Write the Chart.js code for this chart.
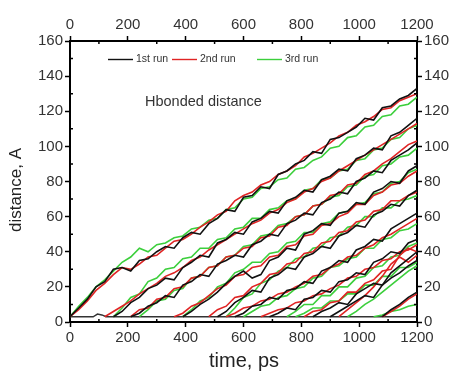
<!DOCTYPE html>
<html>
<head>
<meta charset="utf-8">
<script src="https://cdn.jsdelivr.net/npm/chart.js@4/dist/chart.umd.min.js"></script>
<style>
body { margin: 0; background: #fff; }
</style>
</head>
<body>
<canvas id="grafica" width="453" height="375"></canvas>
<script>
// time between samples, ps
const step = 30;

// all H-bonds sit at ~3 A until they break
const baseTime = [0, 80, 95, 110, 125, 1200];
const baseDist = [3, 3, 4.5, 4, 3, 3];

// 1st run (black): break time of each bond and distance every 30 ps from there
const run1Start = [0, 150, 210, 390, 510, 570, 690, 840, 900, 1080];
const run1 = [
	[3, 8, 13, 20, 23, 30, 31, 29, 35, 36, 40, 43, 42, 48, 51, 50, 56, 59, 64, 63, 71, 72, 77, 76, 84, 86, 90, 92, 97, 96, 104, 105, 108, 111, 116, 115, 122, 123, 127, 129, 133],
	[3, 6, 11, 14, 19, 21, 25, 24, 31, 34, 38, 37, 45, 47, 51, 50, 57, 59, 63, 62, 69, 71, 75, 74, 81, 83, 87, 86, 93, 95, 99, 98, 106, 108, 112, 116],
	[3, 5, 9, 11, 15, 14, 21, 23, 27, 26, 33, 35, 38, 37, 44, 46, 50, 49, 56, 58, 62, 61, 68, 70, 74, 73, 80, 82, 86, 85, 92, 95, 98, 102],
	[3, 6, 10, 13, 17, 22, 26, 29, 25, 27, 35, 37, 42, 41, 50, 52, 56, 55, 62, 63, 68, 67, 74, 76, 80, 79, 86, 89],
	[3, 6, 11, 14, 18, 17, 25, 27, 31, 30, 37, 39, 43, 42, 49, 51, 55, 54, 61, 63, 67, 66, 72, 75],
	[3, 5, 9, 10, 14, 13, 18, 19, 23, 22, 29, 31, 35, 34, 41, 43, 47, 46, 53, 56, 59, 62],
	[3, 5, 8, 7, 13, 14, 18, 17, 23, 24, 28, 27, 34, 36, 40, 39, 45, 47],
	[3, 6, 8, 11, 10, 16, 19, 22, 21, 28, 32, 36, 40],
	[3, 6, 9, 12, 15, 14, 21, 25, 28, 32, 35],
	[3, 7, 10, 14, 17]
];

// 2nd run (red)
const run2Start = [0, 120, 210, 360, 480, 540, 660, 810, 930, 1080];
const run2 = [
	[3, 7, 12, 18, 22, 27, 31, 30, 33, 37, 38, 42, 46, 47, 50, 54, 57, 61, 63, 69, 72, 74, 78, 80, 84, 86, 89, 94, 96, 99, 102, 106, 108, 112, 114, 117, 121, 122, 126, 128, 130],
	[3, 6, 9, 12, 16, 19, 22, 26, 28, 31, 35, 37, 41, 44, 47, 50, 53, 56, 58, 62, 64, 68, 70, 74, 76, 80, 82, 86, 89, 92, 95, 98, 101, 104, 107, 110, 113],
	[3, 7, 8, 13, 14, 19, 20, 25, 26, 31, 32, 37, 38, 42, 43, 48, 49, 54, 55, 60, 61, 66, 67, 72, 73, 78, 79, 84, 86, 90, 93, 97, 101, 103],
	[3, 5, 9, 11, 15, 19, 21, 26, 27, 31, 32, 37, 38, 43, 44, 49, 50, 55, 56, 60, 62, 67, 67, 72, 74, 78, 79, 83, 86],
	[3, 7, 9, 14, 15, 20, 22, 27, 28, 33, 34, 39, 40, 45, 46, 51, 52, 57, 58, 63, 64, 69, 69, 72, 74],
	[3, 5, 8, 9, 12, 13, 16, 17, 20, 22, 26, 27, 31, 33, 37, 38, 42, 44, 48, 50, 53, 56, 59],
	[3, 5, 7, 8, 11, 12, 15, 16, 19, 21, 25, 26, 30, 31, 35, 36, 40, 41, 44],
	[3, 6, 7, 11, 12, 17, 17, 22, 24, 29, 30, 38, 42, 40],
	[3, 7, 11, 15, 20, 26, 33, 37, 34, 38],
	[3, 6, 9, 13, 16]
];

// 3rd run (green)
const run3Start = [0, 150, 240, 390, 540, 600, 750, 780, 960, 1050];
const run3 = [
	[3, 9, 14, 20, 24, 29, 34, 37, 42, 40, 44, 45, 48, 49, 53, 54, 58, 59, 64, 65, 70, 71, 76, 77, 81, 82, 87, 88, 92, 94, 99, 100, 105, 106, 111, 112, 117, 118, 123, 124, 128],
	[3, 8, 14, 16, 23, 25, 30, 31, 36, 37, 42, 42, 47, 48, 53, 54, 59, 59, 64, 65, 69, 70, 75, 76, 81, 82, 86, 87, 92, 93, 98, 99, 104, 105, 110, 112],
	[3, 7, 12, 13, 18, 19, 25, 26, 31, 32, 37, 38, 43, 44, 49, 50, 55, 56, 60, 61, 66, 67, 71, 72, 77, 78, 83, 84, 89, 90, 94, 95, 99],
	[3, 7, 12, 14, 20, 22, 28, 30, 34, 34, 39, 40, 45, 46, 51, 51, 56, 57, 62, 63, 67, 68, 73, 74, 79, 80, 85, 87],
	[3, 8, 14, 16, 22, 24, 29, 31, 36, 37, 42, 43, 48, 49, 54, 55, 60, 60, 65, 65, 69, 70, 72],
	[3, 6, 9, 10, 14, 15, 19, 20, 25, 26, 31, 32, 36, 37, 42, 42, 47, 48, 52, 53, 56],
	[3, 6, 10, 10, 15, 15, 20, 20, 25, 26, 31, 32, 37, 38, 43, 45],
	[3, 5, 8, 8, 12, 12, 16, 16, 21, 21, 26, 26, 31, 31, 34],
	[3, 6, 10, 13, 17, 21, 25, 29, 32],
	[3, 4, 6, 7, 9, 10]
];

const runNames = ['1st run', '2nd run', '3rd run'];
const runColors = ['#111111', '#e02424', '#3ccf3c'];

function serie(start, vals) {
	return vals.map((v, i) => ({x: start + i * step, y: v}));
}

let datasets = [];
[[run1Start, run1], [run2Start, run2], [run3Start, run3]].forEach(([starts, runs], r) => {
	runs.forEach((vals, j) => {
		datasets.push({
			label: runNames[r],
			data: serie(starts[j], vals),
			borderColor: runColors[r],
			borderWidth: 1.6
		});
	});
});
datasets.push({
	label: 'base',
	data: baseTime.map((t, i) => ({x: t, y: baseDist[i]})),
	borderColor: '#333333',
	borderWidth: 1.4
});

const fuente = 'Liberation Sans, Arial, sans-serif';

function eje(pos, max, stepSize, size) {
	const horiz = pos === 'top' || pos === 'bottom';
	return {
		type: 'linear',
		position: pos,
		min: 0,
		max: max,
		ticks: {
			stepSize: stepSize,
			autoSkip: false,
			maxRotation: 0,
			padding: 2,
			color: '#333',
			font: {family: fuente, size: 15},
			callback: v => String(v)
		},
		grid: {drawOnChartArea: false, drawTicks: true, tickLength: 5, tickColor: '#000', tickWidth: 1.5},
		border: {color: '#000', width: 2},
		afterFit: function(s) {
			if (horiz) s.height = size; else s.width = size;
		}
	};
}

// minor ticks, legend and labels inside the frame
const extras = {
	id: 'extras',
	afterDraw(chart) {
		const ctx = chart.ctx;
		const a = chart.chartArea;
		const sx = chart.scales.x, sy = chart.scales.y;
		ctx.save();
		ctx.strokeStyle = '#000';
		ctx.lineWidth = 1.5;
		ctx.beginPath();
		for (let v = 100; v < 1200; v += 200) {
			const px = sx.getPixelForValue(v);
			ctx.moveTo(px, a.bottom); ctx.lineTo(px, a.bottom - 3);
			ctx.moveTo(px, a.top); ctx.lineTo(px, a.top + 3);
		}
		for (let v = 10; v < 160; v += 20) {
			const py = sy.getPixelForValue(v);
			ctx.moveTo(a.left, py); ctx.lineTo(a.left + 3, py);
			ctx.moveTo(a.right, py); ctx.lineTo(a.right - 3, py);
		}
		ctx.stroke();

		// legend
		const legX = [108, 172, 257];
		ctx.font = '10.5px ' + fuente;
		ctx.textBaseline = 'middle';
		ctx.textAlign = 'left';
		for (let i = 0; i < 3; i++) {
			const x0 = legX[i];
			ctx.beginPath();
			ctx.strokeStyle = runColors[i];
			ctx.lineWidth = 1.4;
			ctx.moveTo(x0, 59.5);
			ctx.lineTo(x0 + 25, 59.5);
			ctx.stroke();
			ctx.fillStyle = '#333';
			ctx.fillText(runNames[i], x0 + 28, 59.5);
		}

		ctx.font = '14.5px ' + fuente;
		ctx.fillStyle = '#333';
		ctx.fillText('Hbonded distance', 145, 102);

		// axis titles
		ctx.font = '20px ' + fuente;
		ctx.textAlign = 'center';
		ctx.fillStyle = '#222';
		ctx.fillText('time, ps', 244, 361);
		ctx.translate(16, 190);
		ctx.rotate(-Math.PI / 2);
		ctx.font = '17px ' + fuente;
		ctx.fillText('distance, A', 0, 0);
		ctx.restore();
	}
};

const ctx = document.querySelector('#grafica').getContext('2d');
const myChart = new Chart(ctx, {
	type: 'line',
	data: {datasets: datasets},
	options: {
		responsive: false,
		animation: false,
		devicePixelRatio: 1,
		parsing: false,
		layout: {padding: 0},
		elements: {point: {radius: 0}, line: {tension: 0}},
		plugins: {legend: {display: false}, tooltip: {enabled: false}},
		scales: {
			x: eje('bottom', 1200, 200, 53),
			x2: eje('top', 1200, 200, 41),
			y: eje('left', 160, 20, 70),
			y2: eje('right', 160, 20, 36)
		}
	},
	plugins: [extras]
});
</script>
</body>
</html>
